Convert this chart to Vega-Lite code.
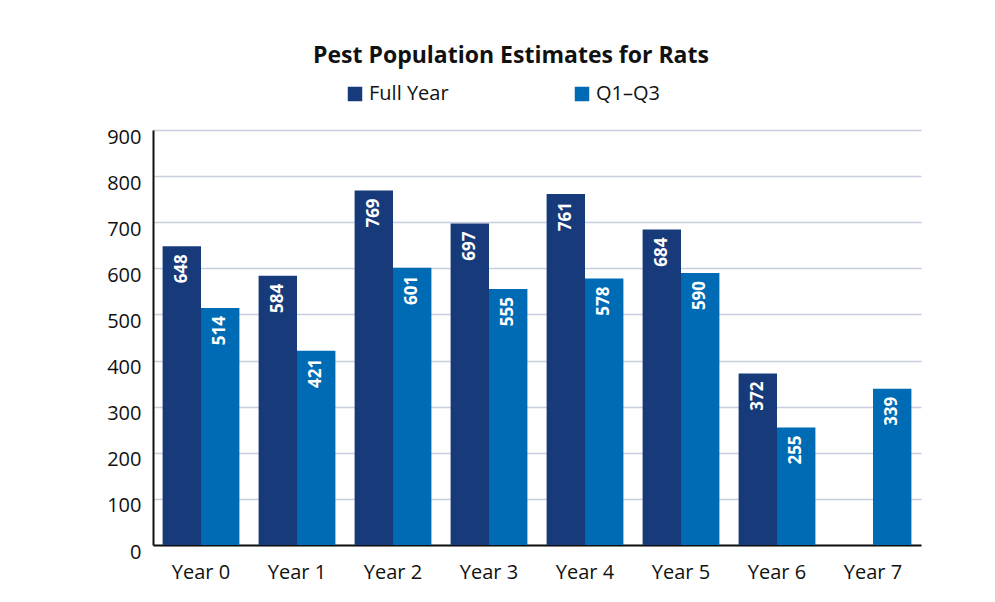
{
  "$schema": "https://vega.github.io/schema/vega-lite/v6.json",
  "width": 768,
  "height": 415,
  "autosize": "none",
  "padding": {"left": 153, "top": 130, "right": 74, "bottom": 57},
  "background": "white",
  "title": {
    "text": "Pest Population Estimates for Rats",
    "font": "Open Sans",
    "fontSize": 23,
    "fontWeight": "bold",
    "color": "#111111",
    "anchor": "middle",
    "dx": -26,
    "offset": 16
  },
  "data": {
    "values": [
      {"year": "Year 0", "series": "Full Year", "value": 648},
      {"year": "Year 0", "series": "Q1–Q3", "value": 514},
      {"year": "Year 1", "series": "Full Year", "value": 584},
      {"year": "Year 1", "series": "Q1–Q3", "value": 421},
      {"year": "Year 2", "series": "Full Year", "value": 769},
      {"year": "Year 2", "series": "Q1–Q3", "value": 601},
      {"year": "Year 3", "series": "Full Year", "value": 697},
      {"year": "Year 3", "series": "Q1–Q3", "value": 555},
      {"year": "Year 4", "series": "Full Year", "value": 761},
      {"year": "Year 4", "series": "Q1–Q3", "value": 578},
      {"year": "Year 5", "series": "Full Year", "value": 684},
      {"year": "Year 5", "series": "Q1–Q3", "value": 590},
      {"year": "Year 6", "series": "Full Year", "value": 372},
      {"year": "Year 6", "series": "Q1–Q3", "value": 255},
      {"year": "Year 7", "series": "Q1–Q3", "value": 339}
    ]
  },
  "encoding": {
    "x": {
      "field": "year",
      "type": "nominal",
      "sort": null,
      "scale": {"paddingInner": 0.2, "paddingOuter": 0.1},
      "axis": {
        "title": null,
        "labelAngle": 0,
        "labelFont": "Open Sans",
        "labelFontSize": 20,
        "labelColor": "#111111",
        "labelPadding": 17,
        "ticks": false,
        "domainColor": "#111111",
        "domainWidth": 2,
        "grid": false
      }
    },
    "xOffset": {
      "field": "series",
      "type": "nominal",
      "sort": ["Full Year", "Q1–Q3"],
      "scale": {"domain": ["Full Year", "Q1–Q3"]}
    },
    "y": {
      "field": "value",
      "type": "quantitative",
      "scale": {"domain": [0, 900]},
      "axis": {
        "title": null,
        "values": [0, 100, 200, 300, 400, 500, 600, 700, 800, 900],
        "labelFont": "Open Sans",
        "labelFontSize": 20,
        "labelColor": "#111111",
        "labelPadding": 12,
        "labelBaseline": "middle",
        "labelOffset": 7,
        "ticks": false,
        "domainColor": "#111111",
        "domainWidth": 2,
        "gridColor": "#c6cedf",
        "gridWidth": 1.3
      }
    }
  },
  "layer": [
    {
      "mark": {"type": "bar"},
      "encoding": {
        "color": {
          "field": "series",
          "type": "nominal",
          "scale": {"domain": ["Full Year", "Q1–Q3"], "range": ["#173a7b", "#006bb5"]},
          "legend": {
            "title": null,
            "orient": "none",
            "direction": "horizontal",
            "legendX": 192,
            "legendY": -46,
            "symbolType": "square",
            "symbolSize": 210,
            "symbolStrokeWidth": 0,
            "labelFont": "Open Sans",
            "labelFontSize": 20,
            "labelColor": "#111111",
            "labelOffset": 4,
            "columnPadding": 123
          }
        }
      }
    },
    {
      "mark": {
        "type": "text",
        "angle": -90,
        "align": "right",
        "baseline": "middle",
        "dx": -8,
        "font": "Open Sans",
        "fontSize": 17,
        "fontWeight": "bold",
        "color": "white"
      },
      "encoding": {
        "text": {"field": "value", "type": "quantitative"}
      }
    }
  ],
  "config": {
    "view": {"stroke": null}
  }
}
